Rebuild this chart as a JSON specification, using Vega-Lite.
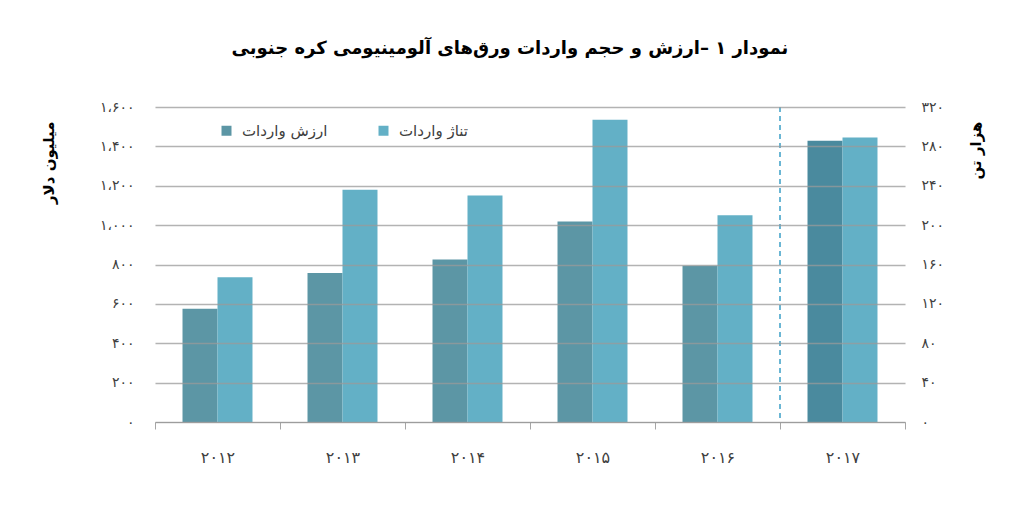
{
  "$schema": "https://vega.github.io/schema/vega-lite/v6.json",
  "width": 750,
  "height": 315,
  "autosize": "none",
  "padding": {"left": 155, "top": 107, "right": 105, "bottom": 86},
  "background": "white",
  "title": {
    "text": "نمودار ۱ –ارزش و حجم واردات ورق‌های آلومینیومی کره جنوبی",
    "font": "DejaVu Sans",
    "fontSize": 18,
    "fontWeight": "bold",
    "color": "#000000",
    "offset": 42,
    "dx": -20
  },
  "data": {
    "values": [
      {"year": "2012", "value": 575, "tonnage": 147},
      {"year": "2013", "value": 757, "tonnage": 236},
      {"year": "2014", "value": 826, "tonnage": 230},
      {"year": "2015", "value": 1019, "tonnage": 307},
      {"year": "2016", "value": 794, "tonnage": 210},
      {"year": "2017", "value": 1429, "tonnage": 289}
    ]
  },
  "layer": [
    {
      "mark": {"type": "bar"},
      "encoding": {
        "x": {
          "field": "year",
          "type": "ordinal",
          "scale": {"paddingInner": 0, "paddingOuter": 0},
          "axis": {
            "title": null,
            "labelAngle": 0,
            "labelFontSize": 16,
            "labelPadding": 20,
            "domain": true,
            "domainColor": "#a6a6a6",
            "ticks": true,
            "tickBand": "extent",
            "tickSize": 7,
            "tickColor": "#a6a6a6",
            "grid": false
          }
        },
        "xOffset": {
          "datum": "ارزش واردات",
          "scale": {"domain": ["ارزش واردات", "تناژ واردات"], "paddingInner": 0, "paddingOuter": 0.786}
        },
        "y": {
          "field": "value",
          "type": "quantitative",
          "scale": {"domain": [0, 1600]},
          "axis": {
            "title": "میلیون دلار",
            "titleFontSize": 15,
            "titleFontWeight": "bold",
            "titleAngle": -90,
            "titleX": -107,
            "titleY": 14,
            "titleAlign": "right",
            "titleBaseline": "middle",
            "values": [0, 200, 400, 600, 800, 1000, 1200, 1400, 1600],
            "format": ",d",
            "labelFontSize": 14,
            "labelPadding": 21,
            "ticks": false,
            "domain": false,
            "grid": true,
            "gridColor": "#9a9a9a",
            "gridOpacity": 0.75,
            "gridWidth": 1.5,
            "zindex": 1
          }
        },
        "color": {
          "condition": {"test": "datum.year === '2017'", "value": "#4a8a9e"},
          "datum": "ارزش واردات",
          "scale": {
            "domain": ["ارزش واردات", "تناژ واردات"],
            "range": ["#5c96a5", "#63b0c6"]
          },
          "legend": {
            "title": null,
            "orient": "none",
            "legendX": 64,
            "legendY": 16,
            "direction": "horizontal",
            "symbolType": "square",
            "symbolSize": 100,
            "symbolStrokeWidth": 0,
            "labelFontSize": 15,
            "labelColor": "#404040",
            "labelOffset": 8,
            "columnPadding": 48
          }
        }
      }
    },
    {
      "mark": {"type": "bar"},
      "encoding": {
        "x": {"field": "year", "type": "ordinal"},
        "xOffset": {"datum": "تناژ واردات"},
        "y": {
          "field": "tonnage",
          "type": "quantitative",
          "scale": {"domain": [0, 320]},
          "axis": {
            "orient": "right",
            "title": "هزار تن",
            "titleFontSize": 15,
            "titleFontWeight": "bold",
            "titleAngle": -90,
            "titleX": 70,
            "titleY": 14,
            "titleAlign": "right",
            "titleBaseline": "middle",
            "values": [0, 40, 80, 120, 160, 200, 240, 280, 320],
            "labelFontSize": 14,
            "labelPadding": 16,
            "ticks": false,
            "domain": false,
            "grid": false
          }
        },
        "color": {"datum": "تناژ واردات"}
      }
    },
    {
      "data": {"values": [{"year": "2017"}]},
      "mark": {"type": "rule", "color": "#3a9fc6", "strokeWidth": 1.5, "strokeDash": [5, 4]},
      "encoding": {
        "x": {"field": "year", "type": "ordinal", "bandPosition": 0}
      }
    }
  ],
  "resolve": {"scale": {"y": "independent"}},
  "config": {
    "font": "DejaVu Sans",
    "view": {"stroke": null},
    "axis": {
      "labelFont": "DejaVu Sans",
      "labelColor": "#404040",
      "titleFont": "DejaVu Sans",
      "titleColor": "#000000",
      "labelExpr": "replace(replace(replace(replace(replace(replace(replace(replace(replace(replace(replace(datum.label, regexp('0','g'), '۰'), regexp('1','g'), '۱'), regexp('2','g'), '۲'), regexp('3','g'), '۳'), regexp('4','g'), '۴'), regexp('5','g'), '۵'), regexp('6','g'), '۶'), regexp('7','g'), '۷'), regexp('8','g'), '۸'), regexp('9','g'), '۹'), ',', '،')"
    },
    "legend": {"labelFont": "DejaVu Sans"}
  }
}
